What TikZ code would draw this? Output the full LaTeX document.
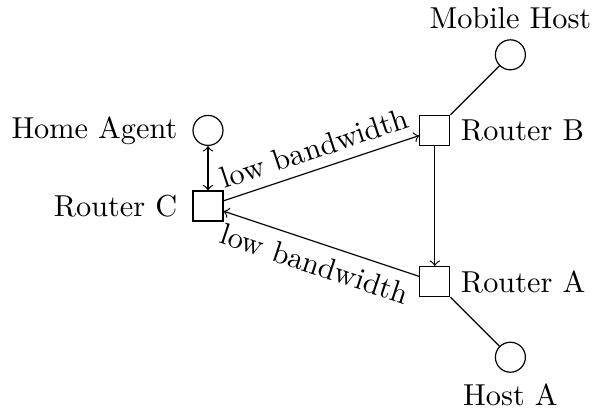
\documentclass[tikz,border=0pt]{standalone}
\begin{document}
\begin{tikzpicture}[x=25.2pt,y=25.2pt,
  font=\fontsize{10.1}{12.4}\selectfont,
  router/.style={draw, rectangle, minimum size=10pt, inner sep=0pt},
  host/.style={draw, circle, minimum size=10pt, inner sep=0pt},
  leftlabel/.style={label={[label distance=1.5pt]left:#1}},
  link/.style={->},
  twoway/.style={<->},
  plain/.style={}]
\useasboundingbox (-69.33pt,-68.33pt) rectangle (129pt,68.67pt);
\node[router, leftlabel=Router C] (C) at (0,0) {};
\node[router, label=right:Router B] (B) at (3,1) {};
\node[router, label=right:Router A] (A) at (3,-1) {};
\node[host, leftlabel=Home Agent] (HA) at (0,1) {};
\node[host, label=above:Mobile Host] (MH) at (4,2) {};
\node[host, label=below:Host A] (HostA) at (4,-2) {};
\draw[link] (C) -- node[sloped, above] {low bandwidth} (B);
\draw[link] (A) -- node[sloped, below] {low bandwidth} (C);
\draw[link] (B) -- (A);
\draw[twoway] (HA) -- (C);
\draw[plain] (MH) -- (B);
\draw[plain] (A) -- (HostA);
\end{tikzpicture}
\end{document}
